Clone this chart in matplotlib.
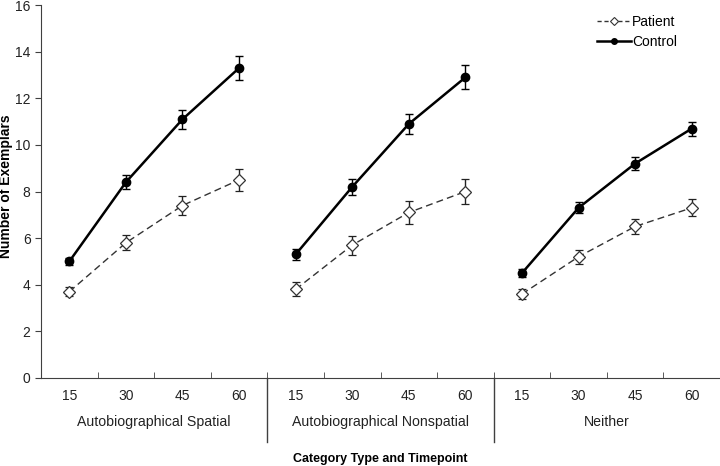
import numpy as np
import matplotlib.pyplot as plt
from matplotlib.lines import Line2D

plt.rcParams['font.family'] = ['Liberation Sans', 'DejaVu Sans']

groups = ['Autobiographical Spatial', 'Autobiographical Nonspatial', 'Neither']
timepoints = ['15', '30', '45', '60']

control = [[5.0, 8.4, 11.1, 13.3],
           [5.3, 8.2, 10.9, 12.9],
           [4.5, 7.3, 9.2, 10.7]]
control_err = [[0.16, 0.3, 0.42, 0.5],
               [0.23, 0.34, 0.43, 0.52],
               [0.16, 0.23, 0.27, 0.3]]
patient = [[3.7, 5.8, 7.4, 8.5],
           [3.8, 5.7, 7.1, 8.0],
           [3.6, 5.2, 6.5, 7.3]]
patient_err = [[0.2, 0.32, 0.4, 0.46],
               [0.3, 0.41, 0.5, 0.53],
               [0.23, 0.3, 0.32, 0.37]]

fig = plt.figure(figsize=(7.2, 4.66), dpi=100)
ax = fig.add_axes([0.057, 0.189, 0.943, 0.800])

n = len(timepoints)
for g in range(len(groups)):
    x = np.arange(n) + g * n
    ax.errorbar(x, patient[g], yerr=patient_err[g], color='#333333', lw=1,
                ls=(0, (5, 3)), marker='D', ms=6, mfc='white', mec='#333333',
                mew=0.9, capsize=3, ecolor='#222222', elinewidth=1)
    ax.errorbar(x, control[g], yerr=control_err[g], color='black', lw=1.8,
                marker='o', ms=6, mfc='black', capsize=3, ecolor='black',
                elinewidth=1)

ax.set_xlim(-0.5, len(groups) * n - 0.5)
ax.set_ylim(0, 16)
ax.set_yticks(np.arange(0, 17, 2))
ax.tick_params(axis='y', labelsize=10, length=4, color='#404040', labelcolor='#222222')

ax.set_xticks(np.arange(len(groups) * n))
ax.set_xticklabels(timepoints * len(groups), fontsize=10, color='#222222')
ax.tick_params(axis='x', which='major', length=0, pad=8)
ax.set_xticks(np.arange(len(groups) * n + 1) - 0.5, minor=True)
ax.tick_params(axis='x', which='minor', direction='in', length=4, color='#404040')

for s in ['top', 'right']:
    ax.spines[s].set_visible(False)
for s in ['left', 'bottom']:
    ax.spines[s].set_color('#404040')

# group labels and dividers
for g, name in enumerate(groups):
    ax.text(g * n + (n - 1) / 2, -0.117, name, transform=ax.get_xaxis_transform(),
            ha='center', va='center', fontsize=10.2, color='#222222')
    if g > 0:
        ax.plot([g * n - 0.5] * 2, [0, -0.172], transform=ax.get_xaxis_transform(),
                color='#404040', lw=1, clip_on=False)

ax.text(0.5, -0.218, 'Category Type and Timepoint', transform=ax.transAxes,
        ha='center', va='center', fontsize=9, fontweight='bold')
fig.text(0.009, 0.60, 'Number of Exemplars', rotation=90, ha='center', va='center',
         fontsize=10, fontweight='bold')

handles = [Line2D([], [], color='#333333', lw=1, ls=(0, (3, 2)), marker='D', ms=4,
                  mfc='white', mec='#333333', mew=0.8),
           Line2D([], [], color='black', lw=1.8, marker='o', ms=4, mfc='black')]
ax.legend(handles, ['Patient', 'Control'], loc='upper left',
          bbox_to_anchor=(0.805, 1.0), frameon=False, fontsize=10,
          handlelength=2.4, handletextpad=0.1, labelspacing=0.45,
          borderaxespad=0.3)

fig.savefig('out.png', dpi=100)
